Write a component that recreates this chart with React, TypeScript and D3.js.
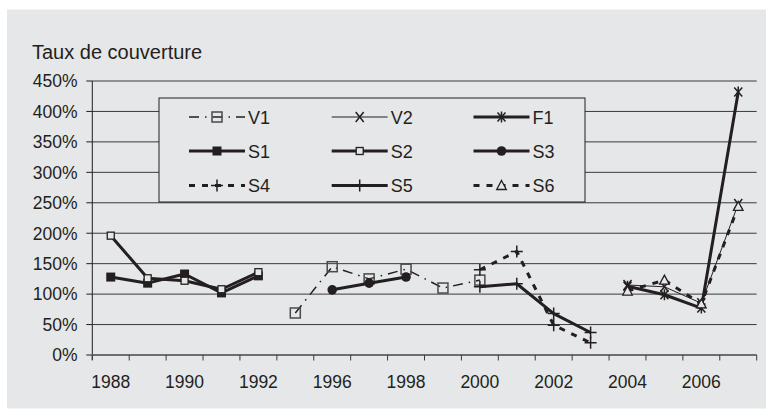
import React from "react";
import * as d3 from "d3";

// categories (year 1995 is unlabeled between 1992 and 1996)
const categories = ["1988", "1989", "1990", "1991", "1992", "1995", "1996", "1997", "1998", "1999", "2000", "2001", "2002", "2003", "2004", "2005", "2006", "2007"];
const shownLabels = ["1988", "1990", "1992", "1996", "1998", "2000", "2002", "2004", "2006"];
const yTickValues = [0, 50, 100, 150, 200, 250, 300, 350, 400, 450];

type V = number | null;
const _ = null;
const v1: V[] = [_, _, _, _, _, 69, 145, 125, 141, 110, 123, _, _, _, _, _, _, _];
const v2: V[] = [_, _, _, _, _, _, _, _, _, _, _, _, _, _, 115, 112, 85, 248];
const f1: V[] = [_, _, _, _, _, _, _, _, _, _, _, _, _, _, 113, 99, 77, 432];
const s1: V[] = [128, 118, 133, 102, 130, _, _, _, _, _, _, _, _, _, _, _, _, _];
const s2: V[] = [196, 126, 122, 108, 136, _, _, _, _, _, _, _, _, _, _, _, _, _];
const s3: V[] = [_, _, _, _, _, _, 107, 118, 128, _, _, _, _, _, _, _, _, _];
const s4: V[] = [_, _, _, _, _, _, _, _, _, _, 140, 170, 49, 20, _, _, _, _];
const s5: V[] = [_, _, _, _, _, _, _, _, _, _, 112, 117, 68, 37, _, _, _, _];
const s6: V[] = [_, _, _, _, _, _, _, _, _, _, _, _, _, _, 105, 123, 84, 244];

const ink = "#231f20";

type Marker = "square" | "x" | "star" | "filledSquare" | "smallSquare" | "circle" | "plus" | "triangle";

interface Series {
  name: string;
  values: V[];
  width: number;
  dash?: string;
  marker: Marker;
}

const series: Series[] = [
  { name: "V1", values: v1, width: 1.5, dash: "10,6,1.5,6", marker: "square" },
  { name: "V2", values: v2, width: 1, marker: "x" },
  { name: "F1", values: f1, width: 3, marker: "star" },
  { name: "S1", values: s1, width: 3, marker: "filledSquare" },
  { name: "S2", values: s2, width: 3, marker: "smallSquare" },
  { name: "S3", values: s3, width: 3, marker: "circle" },
  { name: "S4", values: s4, width: 3, dash: "6,7", marker: "plus" },
  { name: "S5", values: s5, width: 3, marker: "plus" },
  { name: "S6", values: s6, width: 3, dash: "6,7", marker: "triangle" },
];

const MarkerShape = ({ type, x, y }: { type: Marker; x: number; y: number }) => {
  const t = `translate(${x},${y})`;
  switch (type) {
    case "square":
      return <rect transform={t} x={-5} y={-5} width={10} height={10} fill="none" stroke="#4a4a4a" strokeWidth={1.5} />;
    case "smallSquare":
      return <rect transform={t} x={-3.5} y={-3.5} width={7} height={7} fill="#e6e7e8" stroke={ink} strokeWidth={1.3} />;
    case "filledSquare":
      return <rect transform={t} x={-4.5} y={-4.5} width={9} height={9} fill={ink} />;
    case "circle":
      return <circle transform={t} r={4.8} fill={ink} />;
    case "x":
      return <path transform={t} d="M-4,-5L4,5M-4,5L4,-5" stroke={ink} strokeWidth={1.5} fill="none" />;
    case "star":
      return <path transform={t} d="M-4,-4.5L4,4.5M-4,4.5L4,-4.5M0,-5.5L0,5.5" stroke={ink} strokeWidth={1.5} fill="none" />;
    case "plus":
      return <path transform={t} d="M-6,0L6,0M0,-6L0,6" stroke={ink} strokeWidth={1.5} fill="none" />;
    case "triangle":
      return <path transform={t} d="M0,-5L4.8,4L-4.8,4Z" stroke={ink} strokeWidth={1.3} fill="#e6e7e8" />;
  }
};

const App: React.FC = () => {
  const width = 766;
  const height = 411;
  const left = 92.3;
  const right = 756.7;
  const top = 81;
  const bottom = 355;

  const x = d3.scaleBand<string>().domain(categories).range([left, right]).padding(0);
  const y = d3.scaleLinear().domain([0, 450]).range([bottom, top]);
  const cx = (i: number) => (x(categories[i]) as number) + x.bandwidth() / 2;

  const line = d3
    .line<V>()
    .defined((d) => d != null)
    .x((_d, i) => cx(i))
    .y((d) => y(d as number));

  // legend layout
  const legX = 159;
  const legY = 98;
  const legW = 426;
  const legH = 104;
  const colX = [189, 331.7, 473.5];
  const rowY = [117, 151, 185.5];

  return (
    <div style={{ position: "absolute", left: 0, top: 0 }}>
      <svg width={width} height={height} style={{ display: "block", fontFamily: "'Liberation Sans', Arial, sans-serif" }}>
        <rect x={0} y={0} width={width} height={height} fill="#ffffff" />
        <rect x={7} y={9.5} width={width - 7} height={399} fill="#e6e7e8" />

        <text x={32} y={58.5} fontSize={20} fill={ink}>Taux de couverture</text>

        {/* gridlines */}
        {yTickValues.filter((v) => v > 0).map((v) => (
          <line key={v} x1={left} x2={right} y1={y(v)} y2={y(v)} stroke="#3a3a3a" strokeWidth={1} />
        ))}
        {/* y ticks + labels */}
        {yTickValues.map((v) => (
          <g key={"yt" + v}>
            <line x1={left - 6} x2={left} y1={y(v)} y2={y(v)} stroke={ink} strokeWidth={1} />
            <text x={77.5} y={y(v) + 6.3} fontSize={17.5} textAnchor="end" fill={ink}>{v}%</text>
          </g>
        ))}
        <line x1={left} x2={left} y1={top} y2={bottom + 5} stroke={ink} strokeWidth={1} />

        {/* x axis */}
        <line x1={left} x2={right} y1={bottom} y2={bottom} stroke="#6d6e70" strokeWidth={2} />
        {d3.range(categories.length + 1).map((i) => {
          const xx = left + i * x.bandwidth();
          return <line key={"xt" + i} x1={xx} x2={xx} y1={bottom} y2={bottom + 5.5} stroke="#3a3a3a" strokeWidth={1} />;
        })}
        {categories.map((c, i) =>
          shownLabels.includes(c) ? (
            <text key={"xl" + c} x={cx(i)} y={387.5} fontSize={17.5} textAnchor="middle" fill={ink}>{c}</text>
          ) : null
        )}

        {/* legend */}
        <rect x={legX} y={legY} width={legW} height={legH} fill="#e6e7e8" stroke={ink} strokeWidth={1} />
        {series.map((s, k) => {
          const lx = colX[k % 3];
          const ly = rowY[Math.floor(k / 3)];
          return (
            <g key={"lg" + s.name}>
              <line x1={lx} x2={lx + 56} y1={ly} y2={ly} stroke={ink} strokeWidth={s.width} strokeDasharray={s.dash} />
              <MarkerShape type={s.marker} x={lx + 28} y={ly} />
              <text x={lx + 59} y={ly + 6.6} fontSize={18} fill={ink}>{s.name}</text>
            </g>
          );
        })}

        {/* series */}
        {series.map((s) => (
          <g key={s.name}>
            <path d={line(s.values) || ""} fill="none" stroke={ink} strokeWidth={s.width} strokeDasharray={s.dash} strokeLinejoin="round" />
            {s.values.map((v, i) => (v == null ? null : <MarkerShape key={i} type={s.marker} x={cx(i)} y={y(v)} />))}
          </g>
        ))}
      </svg>
    </div>
  );
};

export default App;
